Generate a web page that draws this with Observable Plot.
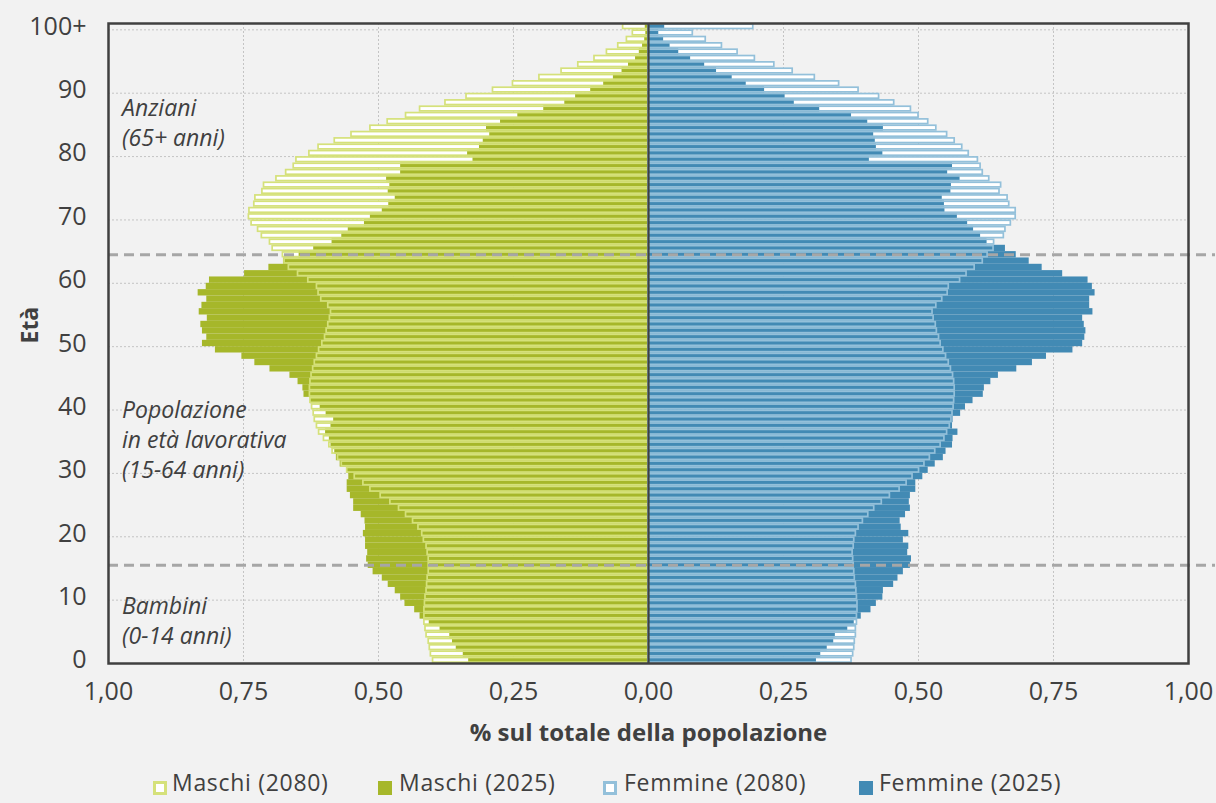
<!DOCTYPE html>
<html><head><meta charset="utf-8">
<script src="https://cdn.jsdelivr.net/npm/d3@7"></script>
<script src="https://cdn.jsdelivr.net/npm/@observablehq/plot@0.6"></script>
<style>
body{margin:0;background:#f2f2f2;font-family:"Open Sans",sans-serif;color:#404040}
#wrap{position:relative;width:1216px;height:803px;overflow:hidden}
#wrap svg{position:absolute;left:0;top:0}
.leg{position:absolute;top:771px;font-size:23px;line-height:23px;white-space:nowrap;letter-spacing:0.7px}
.sw{position:absolute;top:781px;width:14px;height:14px;box-sizing:border-box}
</style></head><body><div id="wrap"></div>
<script>
// ages 0 .. 100 (100 = "100+")
const ages = d3.range(0, 101);
const maschi2025 = [0.333,0.343,0.356,0.363,0.368,0.386,0.406,0.423,0.433,0.451,
 0.459,0.469,0.482,0.493,0.510,0.519,0.522,0.520,0.524,0.524,
 0.528,0.524,0.525,0.532,0.546,0.546,0.552,0.558,0.558,0.555,
 0.558,0.571,0.578,0.581,0.588,0.591,0.598,0.588,0.583,0.597,
 0.608,0.626,0.638,0.640,0.649,0.664,0.701,0.729,0.753,0.802,
 0.826,0.818,0.826,0.829,0.817,0.832,0.827,0.818,0.834,0.819,
 0.813,0.748,0.703,0.676,0.647,0.620,0.586,0.568,0.556,0.526,
 0.515,0.493,0.481,0.469,0.482,0.479,0.485,0.459,0.459,0.325,
 0.335,0.313,0.306,0.294,0.300,0.274,0.242,0.194,0.155,0.135,
 0.107,0.083,0.065,0.049,0.037,0.024,0.017,0.011,0.007,0.005,0.006];
const maschi2080 = [0.399,0.403,0.405,0.407,0.411,0.413,0.415,0.415,0.415,0.414,
 0.413,0.411,0.410,0.409,0.407,0.407,0.407,0.409,0.411,0.416,
 0.419,0.426,0.436,0.449,0.462,0.478,0.496,0.515,0.528,0.544,
 0.558,0.568,0.575,0.585,0.591,0.601,0.610,0.614,0.618,0.620,
 0.623,0.626,0.627,0.627,0.626,0.624,0.621,0.618,0.614,0.610,
 0.604,0.599,0.596,0.593,0.590,0.588,0.593,0.606,0.611,0.614,
 0.630,0.649,0.666,0.674,0.677,0.696,0.701,0.716,0.723,0.735,
 0.740,0.739,0.730,0.728,0.715,0.712,0.689,0.671,0.657,0.652,
 0.628,0.611,0.581,0.550,0.515,0.483,0.449,0.423,0.376,0.337,
 0.288,0.251,0.202,0.161,0.130,0.100,0.077,0.056,0.040,0.029,0.047];
const femmine2025 = [0.311,0.319,0.331,0.343,0.346,0.369,0.381,0.394,0.412,0.422,
 0.434,0.435,0.454,0.462,0.472,0.485,0.487,0.480,0.482,0.472,
 0.482,0.468,0.466,0.476,0.485,0.483,0.485,0.495,0.495,0.508,
 0.518,0.531,0.546,0.551,0.563,0.564,0.573,0.563,0.564,0.578,
 0.587,0.601,0.620,0.622,0.634,0.648,0.682,0.711,0.737,0.786,
 0.804,0.808,0.810,0.807,0.804,0.823,0.817,0.817,0.827,0.822,
 0.814,0.767,0.729,0.705,0.681,0.661,0.627,0.615,0.602,0.591,
 0.572,0.549,0.548,0.544,0.560,0.561,0.577,0.554,0.563,0.409,
 0.434,0.422,0.420,0.417,0.435,0.406,0.376,0.317,0.270,0.253,
 0.215,0.181,0.155,0.126,0.104,0.078,0.056,0.040,0.028,0.019,0.030];
const femmine2080 = [0.376,0.379,0.381,0.382,0.384,0.384,0.386,0.386,0.387,0.387,
 0.386,0.385,0.384,0.382,0.381,0.380,0.379,0.378,0.380,0.381,
 0.384,0.389,0.397,0.407,0.418,0.432,0.447,0.465,0.478,0.489,
 0.501,0.511,0.521,0.531,0.541,0.548,0.553,0.558,0.561,0.563,
 0.565,0.566,0.567,0.567,0.566,0.564,0.560,0.556,0.551,0.546,
 0.541,0.538,0.534,0.532,0.528,0.526,0.533,0.544,0.554,0.556,
 0.577,0.589,0.604,0.619,0.628,0.639,0.640,0.658,0.661,0.671,
 0.680,0.680,0.668,0.665,0.650,0.653,0.631,0.619,0.615,0.610,
 0.593,0.581,0.567,0.553,0.533,0.518,0.500,0.486,0.455,0.427,
 0.389,0.353,0.308,0.267,0.233,0.197,0.165,0.136,0.106,0.082,0.194];

const yTicks = [0,10,20,30,40,50,60,70,80,90,100];
const xTicks = [-1,-0.75,-0.5,-0.25,0,0.25,0.5,0.75,1];
const groupBounds = [15, 64];
const notes = [
  {age: 85, text: "Anziani\n(65+ anni)"},
  {age: 35, text: "Popolazione\nin età lavorativa\n(15-64 anni)"},
  {age: 6.5, text: "Bambini\n(0-14 anni)"}
];
const series = [
  {name: "Maschi (2080)", color: "#d5e17a", hollow: true},
  {name: "Maschi (2025)", color: "#a6b72a", hollow: false},
  {name: "Femmine (2080)", color: "#93c0da", hollow: true},
  {name: "Femmine (2025)", color: "#428ab4", hollow: false}
];

const rows = ages.map(a => ({age: a, m25: maschi2025[a], m80: maschi2080[a], f25: femmine2025[a], f80: femmine2080[a]}));
const Y1 = d => d.age - 0.5, Y2 = d => d.age + 0.5, ZERO = () => 0;

const plot = Plot.plot({
  width: 1216, height: 760,
  marginTop: 23, marginBottom: 97, marginLeft: 108, marginRight: 28,
  x: {domain: [-1, 1]},
  y: {domain: [-0.5, 100.5]},
  style: {background: "transparent", fontFamily: "'Open Sans', sans-serif", color: "#404040", overflow: "visible"},
  marks: [
    Plot.ruleX(xTicks.filter(t => Math.abs(t) !== 1 && t !== 0), {stroke: "#c4c4c4", strokeDasharray: "2,2"}),
    Plot.ruleY(yTicks.filter(t => t > 0).map(t => t - 0.5), {stroke: "#c4c4c4", strokeDasharray: "2,2"}),
    // 2080 interiors
    Plot.rect(rows, {x1: ZERO, x2: d => -d.m80, y1: Y1, y2: Y2, fill: "white", insetTop: 0.8, insetBottom: 0.8}),
    Plot.rect(rows, {x1: ZERO, x2: d => d.f80, y1: Y1, y2: Y2, fill: "white", insetTop: 0.8, insetBottom: 0.8}),
    // 2025 bars
    Plot.rect(rows, {x1: ZERO, x2: d => -d.m25, y1: Y1, y2: Y2, fill: series[1].color}),
    Plot.rect(rows, {x1: ZERO, x2: d => d.f25, y1: Y1, y2: Y2, fill: series[3].color}),
    // 2080 outlines
    Plot.rect(rows, {x1: ZERO, x2: d => -d.m80, y1: Y1, y2: Y2, fill: "none", stroke: series[0].color, strokeWidth: 1.7, insetTop: 0.85, insetBottom: 0.85}),
    Plot.rect(rows, {x1: ZERO, x2: d => d.f80, y1: Y1, y2: Y2, fill: "none", stroke: series[2].color, strokeWidth: 1.7, insetTop: 0.85, insetBottom: 0.85}),
    Plot.ruleX([0], {stroke: "#404040", strokeWidth: 2.2}),
    Plot.ruleY(groupBounds, {x1: -1, x2: 1.05, stroke: "#a6a6a6", strokeWidth: 3, strokeDasharray: "10,6", clip: false}),
    Plot.frame({stroke: "#404040", strokeWidth: 2.5}),
    Plot.text(notes, {x: () => -0.975, y: "age", text: "text", textAnchor: "start", lineHeight: 1.3, fontStyle: "italic", fontSize: 23, fill: "#404040"}),
    Plot.axisX({ticks: xTicks, tickFormat: d => Math.abs(d).toFixed(2).replace(".", ","), tickSize: 0, tickPadding: 19, fontSize: 25, label: null}),
    Plot.axisY({ticks: yTicks, tickFormat: d => d === 100 ? "100+" : String(d), tickSize: 0, tickPadding: 22, fontSize: 25, label: null}),
    Plot.text(["% sul totale della popolazione"], {frameAnchor: "bottom", dy: 77, fontSize: 24, fontWeight: "bold", fill: "#404040"}),
    Plot.text(["Età"], {frameAnchor: "left", dx: -78, rotate: -90, fontSize: 23, fontWeight: "bold", fill: "#404040"})
  ]
});
const wrap = document.getElementById("wrap");
wrap.appendChild(plot);

// legend
const legPos = [[153, 172], [378, 399], [603, 624], [859, 879]];
series.forEach((s, i) => {
  const sw = document.createElement("div");
  sw.className = "sw";
  sw.style.left = legPos[i][0] + "px";
  if (s.hollow) { sw.style.border = "3px solid " + s.color; sw.style.background = "white"; }
  else sw.style.background = s.color;
  wrap.appendChild(sw);
  const t = document.createElement("div");
  t.className = "leg";
  t.style.left = legPos[i][1] + "px";
  t.textContent = s.name;
  wrap.appendChild(t);
});
</script></body></html>
